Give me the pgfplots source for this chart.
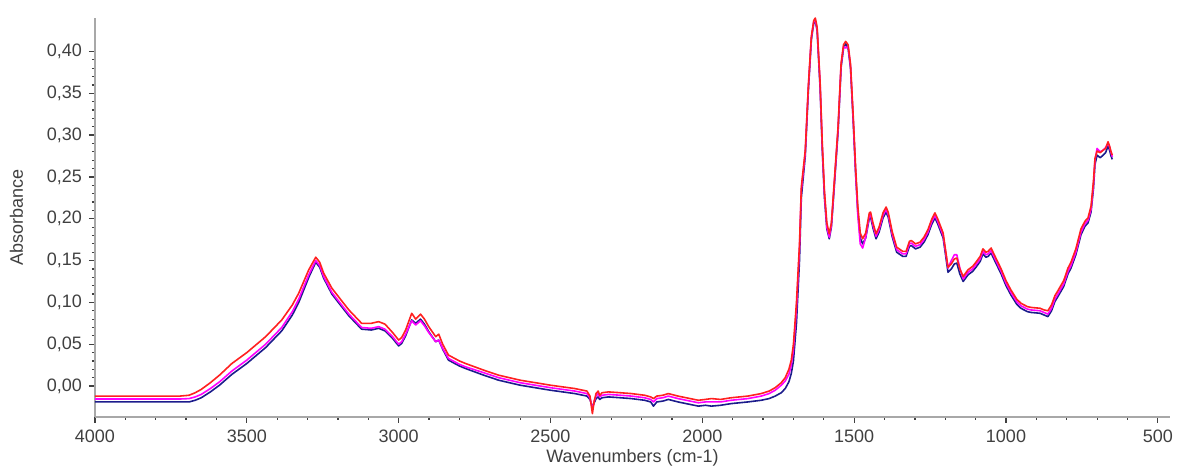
\documentclass[border=0pt]{standalone}
\usepackage{fontspec}
\setmainfont{Liberation Sans}
\usepackage{pgfplots}
\usepackage{pgfplotstable}
\pgfplotsset{compat=1.18}

\definecolor{spred}{HTML}{FF2020}
\definecolor{spmag}{HTML}{FF00FF}
\definecolor{spnavy}{HTML}{1C1C8C}
\definecolor{axgray}{HTML}{A8A8A8}
\definecolor{txt}{HTML}{404040}

% wavenumber / absorbance
\pgfplotstableread{
x y
4000 -0.012
3900 -0.012
3800 -0.012
3720 -0.012
3690 -0.011
3670 -0.008
3650 -0.004
3620 0.004
3590 0.013
3549 0.027
3500 0.040
3438 0.059
3385 0.079
3350 0.097
3329 0.111
3296 0.139
3273 0.154
3260 0.148
3247 0.135
3220 0.117
3190 0.103
3164 0.091
3122 0.075
3090 0.075
3066 0.077
3045 0.074
3020 0.064
3000 0.055
2990 0.058
2977 0.067
2957 0.087
2944 0.080
2928 0.086
2915 0.080
2901 0.071
2878 0.059
2868 0.062
2855 0.050
2836 0.037
2800 0.030
2780 0.027
2720 0.019
2671 0.013
2600 0.007
2500 0.001
2420 -0.003
2380 -0.006
2370 -0.012
2362 -0.033
2356 -0.018
2350 -0.009
2343 -0.006
2338 -0.011
2330 -0.008
2309 -0.007
2270 -0.008
2234 -0.009
2190 -0.011
2170 -0.013
2161 -0.015
2150 -0.012
2130 -0.011
2112 -0.009
2080 -0.012
2040 -0.015
2013 -0.017
1990 -0.016
1970 -0.015
1940 -0.016
1905 -0.014
1850 -0.012
1806 -0.009
1780 -0.006
1760 -0.002
1740 0.004
1727 0.010
1715 0.020
1707 0.031
1700 0.050
1690 0.100
1680 0.170
1674 0.238
1661 0.282
1651 0.358
1641 0.418
1633 0.437
1628 0.440
1622 0.429
1612 0.362
1605 0.290
1598 0.234
1590 0.195
1582 0.182
1575 0.195
1569 0.226
1553 0.310
1543 0.386
1535 0.408
1528 0.412
1520 0.408
1512 0.385
1503 0.322
1495 0.260
1488 0.215
1480 0.183
1472 0.176
1462 0.183
1450 0.207
1446 0.208
1438 0.195
1428 0.182
1418 0.190
1405 0.207
1395 0.214
1388 0.208
1375 0.185
1360 0.166
1340 0.161
1329 0.161
1318 0.173
1312 0.174
1298 0.170
1283 0.172
1270 0.178
1257 0.187
1245 0.199
1234 0.207
1225 0.200
1207 0.183
1198 0.160
1191 0.142
1180 0.146
1170 0.152
1162 0.153
1152 0.140
1141 0.131
1125 0.139
1110 0.143
1099 0.148
1085 0.155
1076 0.164
1066 0.160
1059 0.161
1049 0.165
1040 0.158
1016 0.140
1000 0.126
984 0.115
965 0.104
951 0.099
930 0.095
918 0.094
888 0.093
875 0.091
862 0.090
850 0.097
839 0.108
829 0.114
810 0.126
796 0.141
786 0.148
770 0.164
753 0.188
740 0.197
730 0.201
720 0.215
712 0.245
707 0.272
700 0.281
690 0.279
680 0.282
672 0.284
664 0.292
659 0.287
654 0.280
650 0.276
}\redspec

\pgfplotstableread{
x y
4000 -0.0155
3900 -0.0155
3800 -0.0155
3720 -0.0155
3690 -0.015
3670 -0.013
3650 -0.010
3620 -0.003
3590 0.005
3549 0.018
3500 0.031
3438 0.050
3385 0.070
3350 0.089
3329 0.104
3296 0.133
3273 0.150
3260 0.144
3247 0.131
3220 0.112
3190 0.098
3164 0.086
3122 0.070
3090 0.069
3066 0.071
3045 0.068
3020 0.059
3000 0.050
2990 0.053
2977 0.062
2957 0.078
2944 0.073
2928 0.078
2915 0.072
2901 0.064
2878 0.053
2868 0.055
2855 0.045
2836 0.033
2800 0.026
2780 0.023
2720 0.016
2671 0.010
2600 0.004
2500 -0.002
2420 -0.006
2380 -0.009
2370 -0.014
2362 -0.028
2356 -0.018
2350 -0.012
2343 -0.009
2338 -0.013
2330 -0.011
2309 -0.010
2270 -0.011
2234 -0.012
2190 -0.014
2170 -0.016
2161 -0.019
2150 -0.015
2130 -0.014
2112 -0.012
2080 -0.015
2040 -0.018
2013 -0.020
1990 -0.019
1970 -0.019
1940 -0.019
1905 -0.017
1850 -0.015
1806 -0.012
1780 -0.009
1760 -0.005
1740 0.001
1727 0.006
1715 0.014
1707 0.025
1700 0.043
1690 0.092
1680 0.165
1674 0.234
1661 0.279
1651 0.356
1641 0.416
1633 0.436
1628 0.438
1622 0.427
1612 0.359
1605 0.286
1598 0.230
1590 0.190
1582 0.178
1575 0.192
1569 0.223
1553 0.307
1543 0.384
1535 0.406
1528 0.404
1520 0.406
1512 0.382
1503 0.318
1495 0.254
1488 0.205
1480 0.170
1472 0.165
1462 0.178
1450 0.204
1446 0.205
1438 0.192
1428 0.179
1418 0.187
1405 0.204
1395 0.211
1388 0.205
1375 0.182
1360 0.163
1340 0.158
1329 0.158
1318 0.170
1312 0.171
1298 0.167
1283 0.169
1270 0.175
1257 0.184
1245 0.196
1234 0.204
1225 0.197
1207 0.180
1198 0.158
1191 0.141
1180 0.150
1170 0.157
1162 0.157
1152 0.141
1141 0.128
1125 0.136
1110 0.140
1099 0.145
1085 0.152
1076 0.161
1066 0.157
1059 0.158
1049 0.162
1040 0.155
1016 0.137
1000 0.123
984 0.112
965 0.101
951 0.096
930 0.092
918 0.091
888 0.090
875 0.088
862 0.086
850 0.093
839 0.104
829 0.110
810 0.122
796 0.137
786 0.144
770 0.160
753 0.184
740 0.194
730 0.198
720 0.211
712 0.240
707 0.270
700 0.284
690 0.280
680 0.282
672 0.285
664 0.290
659 0.286
654 0.279
650 0.274
}\magspec

\pgfplotstableread{
x y
4000 -0.019
3900 -0.019
3800 -0.019
3720 -0.019
3690 -0.019
3670 -0.017
3650 -0.014
3620 -0.007
3590 0.001
3549 0.014
3500 0.027
3438 0.046
3385 0.066
3350 0.085
3329 0.100
3296 0.130
3273 0.148
3260 0.142
3247 0.129
3220 0.110
3190 0.096
3164 0.084
3122 0.068
3090 0.067
3066 0.069
3045 0.066
3020 0.057
3000 0.048
2990 0.051
2977 0.060
2957 0.079
2944 0.075
2928 0.080
2915 0.074
2901 0.065
2878 0.053
2868 0.055
2855 0.044
2836 0.031
2800 0.024
2780 0.021
2720 0.013
2671 0.007
2600 0.001
2500 -0.005
2420 -0.009
2380 -0.012
2370 -0.016
2362 -0.025
2356 -0.020
2350 -0.015
2343 -0.013
2338 -0.016
2330 -0.014
2309 -0.013
2270 -0.014
2234 -0.015
2190 -0.017
2170 -0.019
2161 -0.024
2150 -0.019
2130 -0.018
2112 -0.016
2080 -0.019
2040 -0.022
2013 -0.024
1990 -0.023
1970 -0.024
1940 -0.023
1905 -0.021
1850 -0.019
1806 -0.017
1780 -0.015
1760 -0.012
1740 -0.008
1727 -0.003
1715 0.005
1707 0.015
1700 0.030
1690 0.075
1680 0.150
1674 0.225
1661 0.275
1651 0.352
1641 0.414
1633 0.434
1628 0.436
1622 0.425
1612 0.355
1605 0.282
1598 0.226
1590 0.188
1582 0.176
1575 0.190
1569 0.220
1553 0.304
1543 0.381
1535 0.404
1528 0.409
1520 0.404
1512 0.380
1503 0.315
1495 0.252
1488 0.208
1480 0.177
1472 0.170
1462 0.177
1450 0.201
1446 0.202
1438 0.189
1428 0.176
1418 0.184
1405 0.201
1395 0.208
1388 0.202
1375 0.179
1360 0.160
1340 0.155
1329 0.155
1318 0.167
1312 0.168
1298 0.164
1283 0.166
1270 0.172
1257 0.181
1245 0.193
1234 0.201
1225 0.194
1207 0.177
1198 0.154
1191 0.136
1180 0.140
1170 0.146
1162 0.147
1152 0.134
1141 0.125
1125 0.133
1110 0.137
1099 0.142
1085 0.149
1076 0.158
1066 0.154
1059 0.155
1049 0.159
1040 0.152
1016 0.134
1000 0.120
984 0.109
965 0.098
951 0.093
930 0.089
918 0.088
888 0.087
875 0.085
862 0.083
850 0.090
839 0.101
829 0.107
810 0.119
796 0.134
786 0.141
770 0.157
753 0.181
740 0.191
730 0.195
720 0.208
712 0.236
707 0.265
700 0.276
690 0.273
680 0.276
672 0.279
664 0.287
659 0.282
654 0.275
650 0.271
}\navyspec

\begin{document}
\begin{tikzpicture}[x=1pt,y=1pt]
% page = 1180 x 470 px at 0.5pt per px, axis box at (95,417) px
\path[use as bounding box] (-47.5,-26.5) rectangle (542.5,208.5);
\begin{axis}[
    at={(0,0)}, anchor=south west,
    scale only axis,
    width=537.5pt, height=199.5pt,
    x dir=reverse,
    xmin=460, xmax=4000,
    ymin=-0.037, ymax=0.44,
    axis x line*=bottom,
    axis y line*=left,
    axis line style={axgray, line width=1pt},
    xtick={500,1000,...,4000},
    ytick={0,0.05,...,0.41},
    minor x tick num=4,
    minor y tick num=4,
    tick align=outside,
    major tick length=3pt,
    minor tick length=1.5pt,
    tick style={txt, line width=0.6pt},
    xticklabel style={/pgf/number format/1000 sep={}},
    yticklabel style={/pgf/number format/.cd, fixed, fixed zerofill, precision=2, use comma},
    /pgf/number format/assume math mode=true,
    ticklabel style={font=\fontsize{9}{10}\selectfont, text=txt},
    label style={font=\fontsize{9}{10}\selectfont, text=txt},
    xlabel={Wavenumbers (cm-1)},
    ylabel={Absorbance},
    xlabel style={yshift=3.5pt},
    ylabel style={yshift=5pt},
    no markers,
    line join=round,
  ]
  \addplot[spnavy, line width=0.8pt] table[x=x, y=y] {\navyspec};
  \addplot[spmag, line width=0.8pt] table[x=x, y=y] {\magspec};
  \addplot[spred, line width=0.8pt] table[x=x, y=y] {\redspec};
\end{axis}
\end{tikzpicture}
\end{document}
